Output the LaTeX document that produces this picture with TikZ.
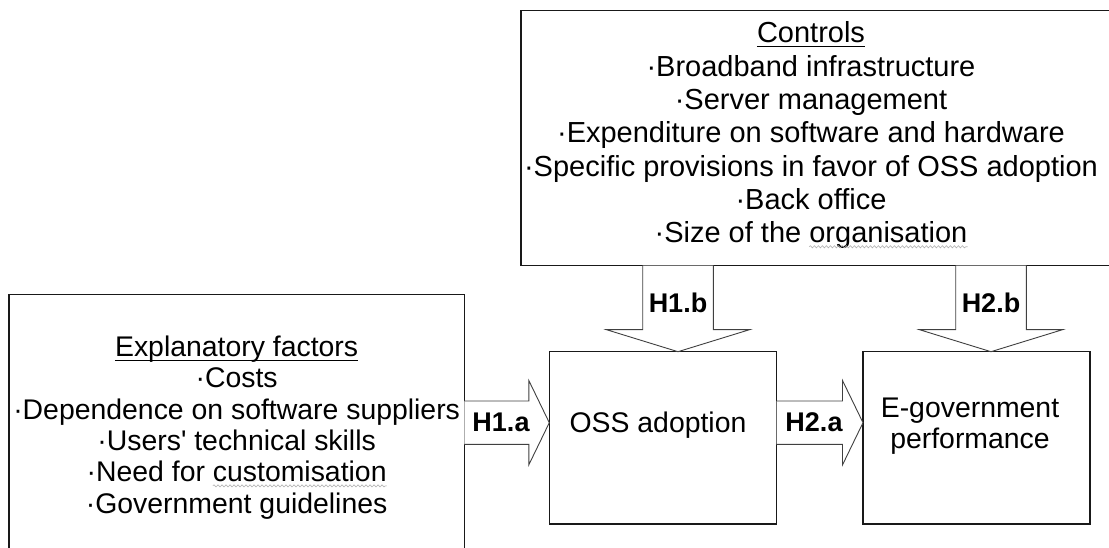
\documentclass[tikz,border=0pt]{standalone}
\usepackage{fontspec}
\setmainfont{Liberation Sans}[Ligatures=TeXOff]
\usetikzlibrary{calc,decorations.pathmorphing}

% block arrow pointing right: #1 tail, #2 tip, #3 shaft half width, #4 head half width, #5 head length
\newcommand\hblock[5]{%
  \draw[blk] ($#1+(0,#3)$) -- ($#2+(-#5,#3)$) -- ($#2+(-#5,#4)$) -- #2
    -- ($#2+(-#5,-#4)$) -- ($#2+(-#5,-#3)$) -- ($#1+(0,-#3)$);}
% block arrow pointing down: same arguments
\newcommand\vblock[5]{%
  \draw[blk] ($#1+(#3,0)$) -- ($#2+(#3,#5)$) -- ($#2+(#4,#5)$) -- #2
    -- ($#2+(-#4,#5)$) -- ($#2+(-#3,#5)$) -- ($#1+(-#3,0)$);}

\begin{document}
\begin{tikzpicture}[x=1pt,y=1pt,
  frame/.style={draw=black!90, line width=1.2pt, rectangle, inner sep=0pt, outer sep=0pt},
  blk/.style={draw=black!75, line width=0.9pt, fill=white, line join=miter},
  txt/.style={inner sep=0pt, anchor=base, font=\fontsize{28.4}{31.3}\selectfont},
  ctxt/.style={inner sep=0pt, anchor=base, font=\fontsize{29}{33}\selectfont},
  lbl/.style={inner sep=0pt, anchor=base, font=\fontsize{27}{30}\selectfont\bfseries},
  headline/.style={line width=1.3pt},
  squiggle/.style={draw=black!30, line width=0.6pt, decorate,
    decoration={snake, amplitude=1.1pt, segment length=4pt}}]
\useasboundingbox (0,0) rectangle (1109,548);

% boxes
\node[frame, minimum width=455.3pt, minimum height=266.3pt] (expl) at (236.65,120.15) {};
\node[frame, minimum width=595pt, minimum height=255pt] (ctrl) at (818.5,409.8) {};
\node[frame, minimum width=227.4pt, minimum height=172.3pt] (oss) at (663,110.15) {};
\node[frame, minimum width=227pt, minimum height=172.3pt] (egov) at (976.5,110.15) {};

% arrow axes
\coordinate (ha) at (0,125.3);
\coordinate (hb1) at (678,0);
\coordinate (hb2) at (991,0);

\hblock{(expl.east|-ha)}{(oss.west|-ha)}{21.7}{42.2}{20.5}
\hblock{(oss.east|-ha)}{(egov.west|-ha)}{21.7}{42.2}{20.5}
\vblock{(ctrl.south-|hb1)}{(oss.north-|hb1)}{35.3}{71.5}{22}
\vblock{(ctrl.south-|hb2)}{(egov.north-|hb2)}{35.3}{71.5}{22}

% arrow labels
\node[lbl] (la1) at (501,116) {H1.a};
\node[lbl] (la2) at (814,116) {H2.a};
\node[lbl] (lb1) at (678,235) {H1.b};
\node[lbl] (lb2) at (991,235) {H2.b};

% explanatory factors
\node[txt] (e0) at (236.65,191.3) {Explanatory factors};
\draw[headline] ($(e0.base west)+(0,-3.5)$) -- ($(e0.base east)+(0,-3.5)$);
\node[txt] (e1) at (236.65,160) {·Costs};
\node[txt] (e2) at (236.65,128.7) {·Dependence on software suppliers};
\node[txt] (e3) at (236.65,97.4) {·Users' technical skills};
\node[txt] (e4) at (236.65,66.1) {·Need for customisation};
\node[txt] (e5) at (236.65,34.8) {·Government guidelines};
\node[txt, anchor=base east] (w1) at (e4.base east) {\phantom{customisation}};
\draw[squiggle] ($(w1.base west)+(0,-4)$) -- ($(w1.base east)+(0,-4)$);

% controls
\node[ctxt] (c0) at (811,505) {Controls};
\draw[headline] ($(c0.base west)+(0,-3.5)$) -- ($(c0.base east)+(0,-3.5)$);
\node[ctxt] (c1) at (811,471.7) {·Broadband infrastructure};
\node[ctxt] (c2) at (811,438.4) {·Server management};
\node[ctxt] (c3) at (811,405.1) {·Expenditure on software and hardware};
\node[ctxt] (c4) at (811,371.8) {·Specific provisions in favor of OSS adoption};
\node[ctxt] (c5) at (811,338.5) {·Back office};
\node[ctxt] (c6) at (811,305.2) {·Size of the organisation};
\node[ctxt, anchor=base east] (w2) at (c6.base east) {\phantom{organisation}};
\draw[squiggle] ($(w2.base west)+(0,-4)$) -- ($(w2.base east)+(0,-4)$);

% outcome boxes text
\node[txt] (t1) at (658,115) {OSS adoption};
\node[txt] (t2) at (970,130.7) {E-government};
\node[txt] (t3) at (970,99.4) {performance};
\end{tikzpicture}
\end{document}
